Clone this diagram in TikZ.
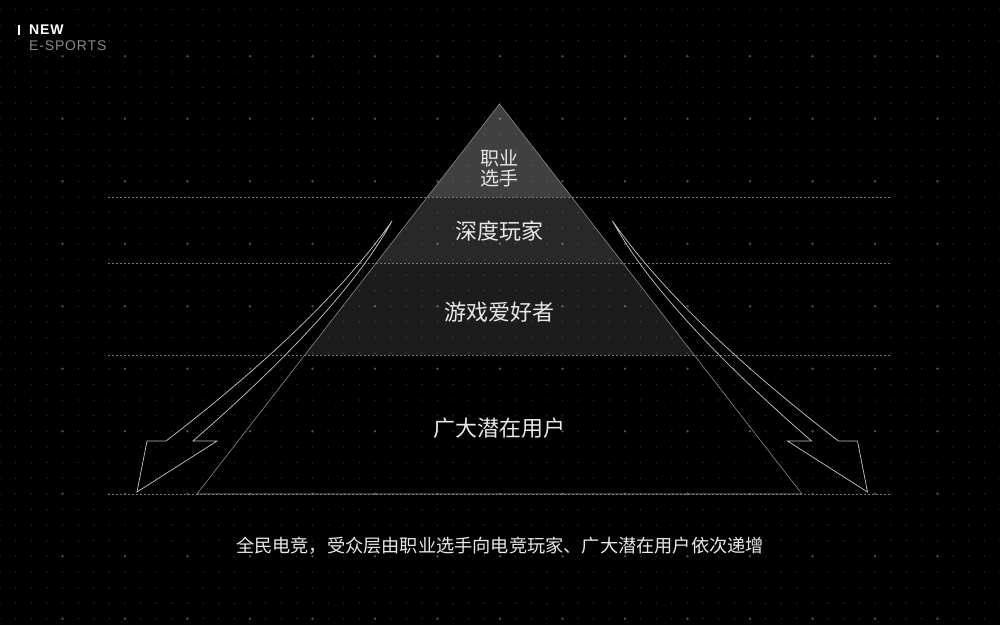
\documentclass[tikz,border=0pt]{standalone}
\usepackage{fontspec}
\setmainfont{Noto Sans CJK SC}
\newfontfamily\brandfont{Liberation Sans}[LetterSpace=6]
\usetikzlibrary{positioning,calc}

\definecolor{smalldot}{HTML}{333333}
\definecolor{bigdot}{HTML}{4E4E4E}
\definecolor{levelline}{HTML}{777777}
\definecolor{edgeline}{HTML}{8C8C8C}
\definecolor{flowline}{HTML}{BEBEBE}
\definecolor{labeltext}{HTML}{E8E8E8}
\definecolor{subtext}{HTML}{888888}

\begin{document}
\begin{tikzpicture}[x=1pt,y=-1pt,
    level/.style={draw=levelline,line width=0.6pt,dash pattern=on 2pt off 2pt},
    tierlabel/.style={text=labeltext,inner sep=0pt,align=center,font=\fontsize{22}{24}\selectfont},
    flow/.style={draw=flowline,line width=0.75pt,line join=miter}]
    \fill[black] (0,0) rectangle (1000,625);
    \useasboundingbox (0,0) rectangle (1000,625);

    % dot grid
    \foreach \i in {0,...,64}
        \foreach \j in {0,...,39}
            \fill[smalldot] (\i*15.625,9.375+\j*15.625) circle[radius=0.75pt];
    \foreach \i in {1,...,15}
        \foreach \j in {0,...,9}
            \fill[bigdot] (\i*62.5,56.25+\j*62.5) circle[radius=1.3pt];

    \coordinate (apex) at (499.5,104);
    \coordinate (baseL) at (197,494);
    \coordinate (baseR) at (802,494);
    \coordinate (t1L) at ($(apex)!0.2385!(baseL)$);
    \coordinate (t1R) at ($(apex)!0.2385!(baseR)$);
    \coordinate (t2L) at ($(apex)!0.4077!(baseL)$);
    \coordinate (t2R) at ($(apex)!0.4077!(baseR)$);
    \coordinate (t3L) at ($(apex)!0.6436!(baseL)$);
    \coordinate (t3R) at ($(apex)!0.6436!(baseR)$);

    \fill[white,opacity=0.25] (apex) -- (t1L) -- (t1R) -- cycle;
    \fill[white,opacity=0.155] (t1L) -- (t2L) -- (t2R) -- (t1R) -- cycle;
    \fill[white,opacity=0.11] (t2L) -- (t3L) -- (t3R) -- (t2R) -- cycle;

    \foreach \y in {197,263,355,494}
        \draw[level] (108,\y) -- (890,\y);
    \draw[edgeline,line width=0.6pt] (apex) -- (baseL) -- (baseR) -- cycle;

    % arrows
    \draw[flow] (392,221) .. controls (345.3,287.7) and (270,361) .. (166,441)
        -- (147,441) -- (137,492) -- (217,441) -- (193,441)
        .. controls (292.7,354.3) and (359,281) .. cycle;
    \draw[flow] (612.5,221) .. controls (659.2,287.7) and (734.5,361) .. (838.5,441)
        -- (857.5,441) -- (867.5,492) -- (787.5,441) -- (811.5,441)
        .. controls (711.8,354.3) and (645.5,281) .. cycle;

    \node[tierlabel,font=\fontsize{19}{20}\selectfont] (pro) at (499,168) {职业\\选手};
    \node[tierlabel] (core) at (499,231) {深度玩家};
    \node[tierlabel] (fans) at (499,312) {游戏爱好者};
    \node[tierlabel] (mass) at (499,428) {广大潜在用户};
    \node[text=labeltext,inner sep=0pt,font=\fontsize{18.2}{20}\selectfont] (caption) at (500,546)
        {全民电竞，受众层由职业选手向电竞玩家、广大潜在用户依次递增};

    \node[anchor=west,inner sep=0pt,text=white,font=\brandfont\bfseries\fontsize{14}{16}\selectfont] (brand) at (29,30) {NEW};
    \node[anchor=west,inner sep=0pt,text=subtext,font=\brandfont\fontsize{14}{16}\selectfont] (sub) at (29,45.5) {E-SPORTS};
    \draw[white,line width=1.1pt] ($(brand.west)+(-10,-5)$) -- ++(0,10);
\end{tikzpicture}
\end{document}
